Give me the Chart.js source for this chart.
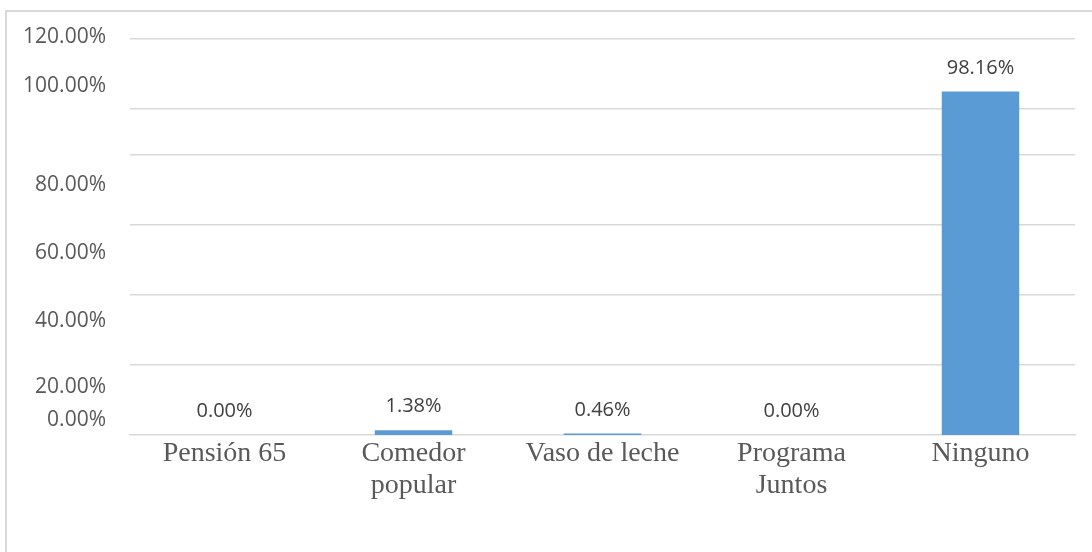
<!DOCTYPE html>
<html>
<head>
<meta charset="utf-8">
<script src="https://cdn.jsdelivr.net/npm/chart.js@4/dist/chart.umd.min.js"></script>
<style>
  html, body { margin: 0; padding: 0; background: #ffffff; overflow: hidden; }
  #wrap { position: relative; width: 1092px; height: 552px; }
  #frame { position: absolute; left: 5px; top: 10px; width: 2000px; height: 2000px;
           border-left: 2px solid #d9d9d9; border-top: 2px solid #d9d9d9; }
  canvas { position: absolute; left: 0; top: 0; }
</style>
</head>
<body>
<div id="wrap">
  <div id="frame"></div>
  <canvas id="c" width="1092" height="552"></canvas>
</div>
<script>
// ---- data ----
const categories = ['Pensión 65', ['Comedor', 'popular'], 'Vaso de leche', ['Programa', 'Juntos'], 'Ninguno'];
const values = [0.00, 1.38, 0.46, 0.00, 98.16];
const tickLabels = ['0.00%', '20.00%', '40.00%', '60.00%', '80.00%', '100.00%', '120.00%'];
const tickLabelValues = [4.2, 13.6, 32.7, 52.0, 71.5, 99.6, 113.7];
const gridValues = [20, 40, 60, 80, 93.29, 113.14];

// combined tick list (labels and gridlines as in the reference)
const allTicks = [];
tickLabelValues.forEach((v, i) => allTicks.push({ value: v, text: tickLabels[i], grid: false }));
gridValues.forEach(v => allTicks.push({ value: v, text: '', grid: true }));
allTicks.sort((a, b) => a.value - b.value);

const dataLabelPlugin = {
  id: 'dataLabels',
  afterDatasetsDraw(chart) {
    const ctx = chart.ctx;
    const meta = chart.getDatasetMeta(0);
    ctx.save();
    ctx.font = '20px "Open Sans"';
    ctx.fillStyle = '#404040';
    ctx.textAlign = 'center';
    ctx.textBaseline = 'middle';
    meta.data.forEach((bar, i) => {
      ctx.fillText(values[i].toFixed(2) + '%', bar.x, bar.y - 23.5);
    });
    ctx.restore();
  }
};

new Chart(document.getElementById('c'), {
  type: 'bar',
  data: {
    labels: categories,
    datasets: [{
      data: values,
      backgroundColor: '#5b9bd5',
      borderWidth: 0,
      barPercentage: 0.41,
      categoryPercentage: 1.0
    }]
  },
  options: {
    responsive: false,
    animation: false,
    layout: { padding: { left: 0, right: 17, top: 15, bottom: 0 } },
    plugins: { legend: { display: false }, tooltip: { enabled: false } },
    scales: {
      x: {
        grid: { display: false, drawTicks: false },
        border: { display: true, color: '#d9d9d9', width: 1.5 },
        ticks: {
          color: '#595959',
          font: { family: '"Liberation Serif"', size: 28, lineHeight: 1.14 },
          padding: 3,
          maxRotation: 0,
          autoSkip: false
        },
        afterFit(scale) { scale.height = 117; scale.paddingLeft = 0; scale.paddingRight = 0; }
      },
      y: {
        min: 0,
        max: 120,
        border: { display: false },
        grid: {
          drawTicks: false,
          lineWidth: 1.5,
          color: (c) => (c.tick && allTicks.find(t => t.value === c.tick.value && t.grid)) ? '#d9d9d9' : 'rgba(0,0,0,0)'
        },
        afterBuildTicks(scale) {
          scale.ticks = allTicks.map(t => ({ value: t.value }));
        },
        ticks: {
          autoSkip: false,
          color: '#595959',
          font: { family: '"Open Sans"', size: 21 },
          padding: 24,
          callback: (value, index) => allTicks[index] ? allTicks[index].text : ''
        },
        afterFit(scale) { scale.width = 130; scale.paddingTop = 0; scale.paddingBottom = 0; }
      }
    }
  },
  plugins: [dataLabelPlugin]
});
</script>
</body>
</html>
